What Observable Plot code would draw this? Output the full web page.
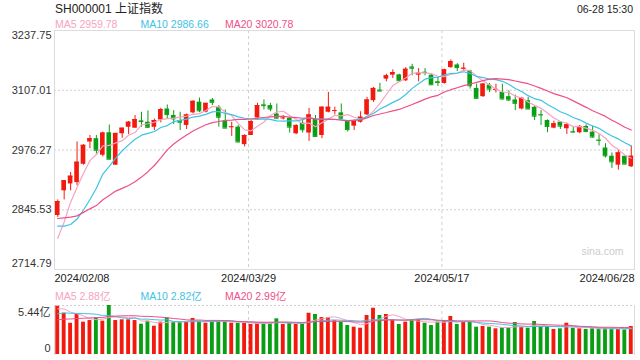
<!DOCTYPE html>
<html><head><meta charset="utf-8">
<script src="https://cdn.jsdelivr.net/npm/d3@7"></script>
<script src="https://cdn.jsdelivr.net/npm/@observablehq/plot@0.6"></script>
<style>
body{margin:0;background:#fff;font-family:"Liberation Sans",Arial,"Noto Sans CJK SC",sans-serif;}
#wrap{position:relative;width:640px;height:360px;overflow:hidden;background:#fff;}
.t{position:absolute;white-space:nowrap;line-height:1;}
#price,#vol{position:absolute;left:0;}
#price{top:0;} #vol{top:280px;}
</style></head><body><div id="wrap">
<div class="t" style="left:55px;top:2.5px;font-size:12px;color:#222">SH000001 上证指数</div>
<div class="t" style="right:7px;top:3.5px;font-size:10.5px;color:#222">06-28 15:30</div>
<div id="legP"></div><div id="legV"></div>
<div id="price"></div><div id="vol"></div>
</div>
<script>
// ---- data ----
const tickIndex = [0, 30, 60, 89];
const tickLabel = ["2024/02/08", "2024/03/29", "2024/05/17", "2024/06/28"];
const priceTicks = [3237.75, 3107.01, 2976.27, 2845.53, 2714.79];
const volMax = 5.44;

const open = [2833,2887,2902,2905,2945,2993.8,3001,2964.8,3014,2943,
3011.8,3026,3024,3040,3037,3026,3042,3066,3051.7,3040.8,
3030,3057.5,3081,3059,3085.7,3069.8,3039.4,3026,3026.3,2988,
3008,3046.6,3075,3073.4,3055,3045.9,3045.9,3011.8,3035,3013.3,
3043,3008,3058.9,3061.5,3057.5,3038.6,3028.5,3037,3053,3084.2,
3107.4,3131.3,3140,3140.7,3127.7,3158,3140,3146.5,3140,3125.5,
3121.9,3156.6,3162.4,3153.7,3149.4,3111,3092.9,3118.2,3107.4,3102.3,
3092.9,3085.7,3066,3084.2,3069.8,3054,3040.8,3024.1,3037.2,3022.7,
3016.9,3014,3027.8,3015.5,2998,2980.7,2962.6,2943.1,2962.6,2939.5];
const close = [2863.5,2909,2919,2949.6,2986.5,3001,2975.7,3013.3,2956,3012.6,
3024,3037,3043,3038.5,3026,3040.8,3064.7,3053.8,3044.4,3037,
3053,3082.8,3062,3078.4,3080.6,3048,3024.1,3027,2993.8,3008,
3038.6,3073.4,3073.4,3066,3045.9,3046.4,3026.3,3030,3020.5,3053,
3006,3069.8,3069.8,3062.5,3045.9,3021,3040.8,3048,3085.7,3111,
3105.2,3138.5,3145.8,3127.7,3153,3155.2,3144.3,3145.8,3119,3124,
3151.6,3169.6,3156.6,3155.2,3116.8,3089.3,3120.4,3109.6,3108.9,3087.9,
3085.7,3078.4,3089.3,3066,3050.2,3053,3027.8,3033.6,3028.5,3031.4,
3015.5,3027.8,3016.9,3004.6,2997.4,2963.4,2950.3,2969.9,2945.3,2962.6];
const high = [2867,2909,2927,2993.8,2988,3008,3008,3015.5,3031,3012.6,
3024,3038.6,3051.7,3058.9,3062,3044,3067.6,3074.8,3062.5,3058.9,
3055,3084,3090,3078.4,3089,3073.4,3064,3037,3030,3009.6,
3040.8,3078.4,3085.7,3078.4,3077,3051.7,3048,3031.4,3043,3067.3,
3051.7,3071,3102.3,3069.8,3077,3040.8,3042,3060,3091.5,3113.2,
3121.9,3142.1,3151.6,3142.1,3156.6,3163.9,3154.5,3154.5,3142.1,3134.9,
3153,3173.3,3165.3,3166,3150.8,3120.4,3121.9,3121.9,3120.4,3120.4,
3106,3096.5,3091.5,3091.5,3073.4,3062.5,3042.2,3039.4,3038.6,3035,
3026.3,3030,3031.4,3027.8,3009.6,2990,2969.9,2975.7,2962.6,2985];
const low = [2828.7,2867,2887,2898,2943,2979,2967,2961,2956,2943,
3002,3010,3024,3026,3024,3019,3035.7,3043,3032,3019,
3021,3055,3058,3057.5,3073.4,3026.3,3024.1,3006,2992.3,2983,
3008,3044,3064,3060,3044.4,3042,3013.3,3009.6,3013.3,2995.2,
3006,3001,3057.5,3053,3040.8,3015.5,3019,3035,3051.7,3080.6,
3105.2,3125.5,3132.7,3126.2,3126.2,3138.5,3125.5,3138.5,3118.2,3115.4,
3120.4,3155.2,3147.9,3147.9,3109.6,3087.9,3091.5,3102,3101,3085.7,
3082.8,3062.5,3064,3064.7,3040.8,3030,3014,3022.7,3021.2,3010.4,
3013.3,3011.8,3014,3002.4,2985,2959,2935.9,2932.2,2945.3,2938];
// closes of the 19 sessions before the first candle (needed for the MA lines' start)
const priorCloses = [2881.98,2886.29,2893.99,2833.62,2845.78,2832.28,2756.34,2770.98,2820.77,2906.11,
2910.22,2883.36,2830.53,2788.55,2770.74,2730.15,2702.19,2789.49,2829.70];
// volume (亿)
const volume = [5.36,4.58,3.47,4.44,3.59,3.77,4.07,3.70,5.44,3.77,
3.85,3.85,3.77,3.36,3.70,3.14,3.59,4.07,3.59,3.59,
3.59,4.00,3.70,3.47,3.70,3.70,3.77,3.47,3.47,3.47,
3.33,3.47,3.47,3.47,3.96,3.33,3.47,3.33,3.33,4.58,
4.44,4.10,4.10,3.74,3.59,3.22,3.03,2.92,4.33,5.14,
4.33,4.44,3.85,3.33,3.59,3.85,3.85,3.47,3.22,3.59,
3.77,4.22,3.33,3.55,3.59,3.03,3.11,3.03,2.85,2.96,
2.96,3.55,3.03,2.92,3.66,3.11,3.11,2.78,2.85,3.47,
2.92,2.85,2.78,2.85,2.85,2.92,2.85,2.78,2.74,3.11];
const priorVolume = [3.0,3.2,3.3,3.1,3.0,3.4,3.5,3.0,3.1,3.2,3.6,3.9,4.6,3.8,3.95,4.6,5.3,5.4,4.7];
const maNames = ["MA5", "MA10", "MA20"];
const maPeriods = [5, 10, 20];
const maPriceLast = ["2959.78", "2986.66", "3020.78"];
const maVolLast = ["2.88亿", "2.82亿", "2.99亿"];

// ---- styles ----
const RED = "#f21a0f", GREEN = "#0a9e14";
const maColors = ["#f7a3c2", "#3ec3e5", "#ef4f87"];
const GRID = "#cfcfcf", FRAME = "#dcdcdc";

// legends
function legend(id, top, vals) {
  const el = document.getElementById(id);
  const lefts = [55, 140.5, 225];
  maNames.forEach((n, k) => {
    const d = document.createElement("div");
    d.className = "t";
    d.style.cssText = `left:${lefts[k]}px;top:${top}px;font-size:10.5px;color:${maColors[k]}`;
    d.textContent = n + " " + vals[k];
    el.appendChild(d);
  });
}
legend("legP", 18.8, maPriceLast);
legend("legV", 290.8, maVolLast);

const n = close.length;
const rows = d3.range(n).map(i => ({i, open: open[i], high: high[i], low: low[i], close: close[i], vol: volume[i],
  col: close[i] >= open[i] ? RED : GREEN}));
function movingAvg(prior, series, k) {
  const all = prior.concat(series);
  return series.map((_, i) => {
    const end = prior.length + i + 1;
    return {i, v: d3.mean(all.slice(end - k, end))};
  });
}
const maP = maPeriods.map(k => movingAvg(priorCloses, close, k));
const maV = maPeriods.map(k => movingAvg(priorVolume, volume, k));

const xDomain = [-0.5, n - 0.5];
const hw = 0.36;
const midTicks = priceTicks.slice(1, -1);

const price = Plot.plot({
  width: 640, height: 290,
  marginLeft: 54, marginRight: 6, marginTop: 30, marginBottom: 21,
  x: {domain: xDomain, axis: null},
  y: {domain: [priceTicks[priceTicks.length - 1], priceTicks[0]], axis: null},
  style: {fontFamily: '"Liberation Sans", Arial, sans-serif', background: "transparent"},
  marks: [
    Plot.ruleY(midTicks, {stroke: GRID, strokeDasharray: "2,2"}),
    Plot.ruleX(tickIndex.slice(1, -1), {stroke: GRID, strokeDasharray: "3,3", dx: -2.5}),
    Plot.frame({stroke: FRAME}),
    Plot.text(["sina.com"], {frameAnchor: "bottom-right", dx: -11, dy: -15, fill: "#cccccc", fontSize: 10.5}),
    Plot.ruleX(rows, {x: "i", y1: "low", y2: "high", stroke: "col", strokeWidth: 1}),
    Plot.rect(rows, {x1: d => d.i - hw, x2: d => d.i + hw, y1: "open", y2: "close", fill: "col"}),
    Plot.ruleY(rows, {y: "close", x1: d => d.i - hw, x2: d => d.i + hw, stroke: "col"}),
    ...maP.map((m, k) => Plot.lineY(m, {x: "i", y: "v", stroke: maColors[k], strokeWidth: 1.2})),
    Plot.axisY(midTicks, {tickSize: 0, tickPadding: 3, tickFormat: d => d.toFixed(2), fontSize: 11, fill: "#333"}),
    Plot.axisY([priceTicks[0]], {tickSize: 0, tickPadding: 3, tickFormat: d => d.toFixed(2), fontSize: 11, fill: "#333", dy: 5}),
    Plot.axisY([priceTicks[priceTicks.length - 1]], {tickSize: 0, tickPadding: 3, tickFormat: d => d.toFixed(2), fontSize: 11, fill: "#333", dy: -6}),
    Plot.text([0], {x: d => tickIndex[d], frameAnchor: "bottom", text: d => tickLabel[d], textAnchor: "start", lineAnchor: "middle", dx: -3.3, dy: 8.5, fontSize: 11, fill: "#222"}),
    Plot.text([1, 2], {x: d => tickIndex[d], frameAnchor: "bottom", text: d => tickLabel[d], textAnchor: "middle", lineAnchor: "middle", dx: -2.5, dy: 8.5, fontSize: 11, fill: "#222"}),
    Plot.text([3], {x: d => tickIndex[d], frameAnchor: "bottom", text: d => tickLabel[d], textAnchor: "end", lineAnchor: "middle", dx: 3.3, dy: 8.5, fontSize: 11, fill: "#222"})
  ]
});
document.getElementById("price").appendChild(price);

const vol = Plot.plot({
  width: 640, height: 80,
  marginLeft: 54, marginRight: 6, marginTop: 25, marginBottom: 6,
  x: {domain: xDomain, axis: null},
  y: {domain: [0, volMax], axis: null},
  style: {fontFamily: '"Liberation Sans", Arial, "Noto Sans CJK SC", sans-serif', background: "transparent"},
  marks: [
    Plot.ruleY([volMax], {stroke: GRID, strokeDasharray: "2,2"}),
    Plot.ruleX(tickIndex.slice(1, -1), {stroke: GRID, strokeDasharray: "3,3", dx: -2.5}),
    Plot.frame({anchor: "left", stroke: FRAME}),
    Plot.frame({anchor: "right", stroke: FRAME}),
    Plot.rect(rows, {x1: d => d.i - 0.3, x2: d => d.i + 0.3, y1: 0, y2: "vol", fill: "col"}),
    ...maV.map((m, k) => Plot.lineY(m, {x: "i", y: "v", stroke: maColors[k], strokeWidth: 1})),
    Plot.axisY([volMax], {tickSize: 0, tickPadding: 4, tickFormat: d => d.toFixed(2) + "亿", fontSize: 11, fill: "#333", dy: 6.5}),
    Plot.axisY([0], {tickSize: 0, tickPadding: 4, tickFormat: d => String(d), fontSize: 11, fill: "#333", dy: -6})
  ]
});
document.getElementById("vol").appendChild(vol);
</script>
</body></html>
